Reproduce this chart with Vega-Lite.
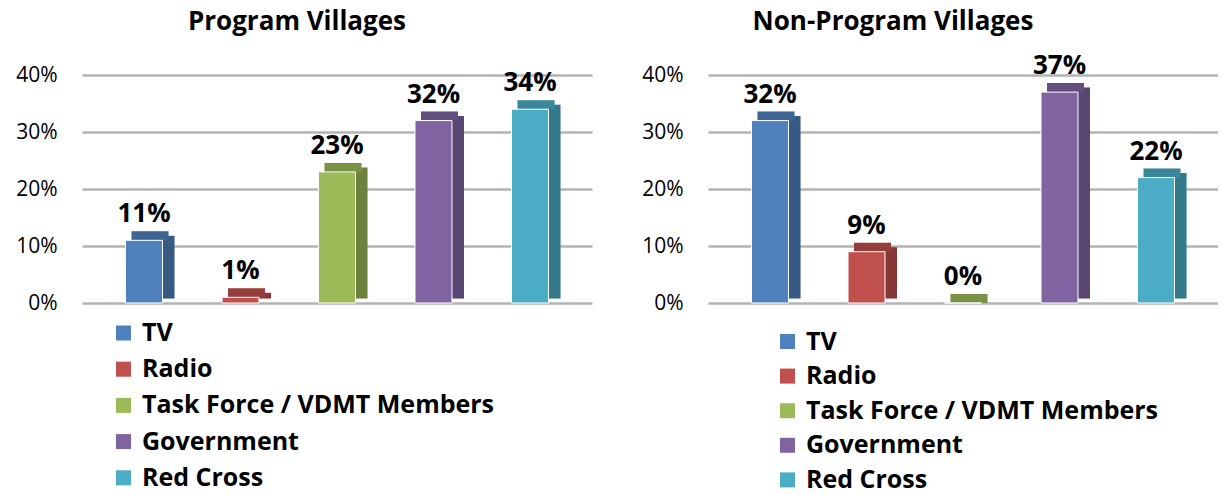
{
  "$schema": "https://vega.github.io/schema/vega-lite/v6.json",
  "padding": {"left": 15, "top": 9, "right": 0, "bottom": 0},
  "background": "white",
  "config": {"font": "Open Sans", "view": {"stroke": null}, "concat": {"spacing": 49}},
  "datasets": {
    "prog": [
      {"source": "TV", "value": 0.11},
      {"source": "Radio", "value": 0.01},
      {"source": "Task Force / VDMT Members", "value": 0.23},
      {"source": "Government", "value": 0.32},
      {"source": "Red Cross", "value": 0.34}
    ],
    "nonprog": [
      {"source": "TV", "value": 0.32},
      {"source": "Radio", "value": 0.09},
      {"source": "Task Force / VDMT Members", "value": 0.0},
      {"source": "Government", "value": 0.37},
      {"source": "Red Cross", "value": 0.22}
    ]
  },
  "resolve": {"scale": {"color": "independent", "x": "independent", "y": "independent"}, "legend": {"color": "independent"}},
  "hconcat": [
    {
      "width": 510,
      "height": 452,
      "title": {"text": "Program Villages", "fontSize": 26, "fontWeight": "bold", "anchor": "middle", "frame": "group", "dx": -40, "offset": 6, "color": "black"},
      "data": {"name": "prog"},
      "encoding": {
        "x": {"field": "source", "type": "nominal", "sort": ["TV", "Radio", "Task Force / VDMT Members", "Government", "Red Cross"], "scale": {"paddingInner": 0.617, "paddingOuter": 0.451}, "axis": null},
        "y": {"field": "value", "type": "quantitative", "scale": {"domain": [0, 0.4], "range": [262, 34]}, "axis": {"values": [0, 0.1, 0.2, 0.3, 0.4], "format": ".0%", "title": null, "labelFontSize": 21, "labelColor": "black", "labelPadding": 25, "ticks": false, "domain": false, "grid": true, "gridColor": "#b3b3b3", "gridWidth": 2.5}}
      },
      "layer": [
        {"mark": {"type": "bar", "width": 12, "xOffset": 24.5, "yOffset": -4.5, "y2Offset": -4.5},
         "encoding": {"color": {"field": "source", "type": "nominal"}}},
        {"mark": {"type": "bar", "width": 12, "xOffset": 24.5, "yOffset": -4.5, "y2Offset": -4.5, "color": "black", "opacity": 0.3}},
        {"mark": {"type": "bar", "width": 37, "xOffset": 6, "yOffset": -9, "y2Offset": 0},
         "encoding": {"y2": {"field": "value"}, "color": {"field": "source", "type": "nominal"}}},
        {"mark": {"type": "bar", "width": 37, "xOffset": 6, "yOffset": -9, "y2Offset": 0, "color": "black", "opacity": 0.22},
         "encoding": {"y2": {"field": "value"}}},
        {"mark": {"type": "bar", "width": 37, "stroke": "white", "strokeWidth": 1},
         "encoding": {"color": {"field": "source", "type": "nominal", "sort": ["TV", "Radio", "Task Force / VDMT Members", "Government", "Red Cross"], "scale": {"domain": ["TV", "Radio", "Task Force / VDMT Members", "Government", "Red Cross"], "range": ["#4f81bd", "#c0504d", "#9bbb59", "#8064a2", "#4bacc6"]},
           "legend": {"orient": "none", "legendX": 29, "legendY": 279.5, "direction": "vertical", "title": null, "symbolType": "square", "symbolSize": 225, "symbolStrokeWidth": 0, "labelFontSize": 25, "labelFontWeight": "bold", "labelColor": "black", "rowPadding": 10.2, "labelOffset": 6, "padding": 0, "labelLimit": 500}}}},
        {"mark": {"type": "text", "fontSize": 26, "fontWeight": "bold", "baseline": "bottom", "dy": -13, "color": "black"},
         "encoding": {"text": {"field": "value", "type": "quantitative", "format": ".0%"}}}
      ]
    },
    {
      "width": 510,
      "height": 452,
      "title": {"text": "Non-Program Villages", "fontSize": 26, "fontWeight": "bold", "anchor": "middle", "frame": "group", "dx": -70, "offset": 6, "color": "black"},
      "data": {"name": "nonprog"},
      "encoding": {
        "x": {"field": "source", "type": "nominal", "sort": ["TV", "Radio", "Task Force / VDMT Members", "Government", "Red Cross"], "scale": {"paddingInner": 0.617, "paddingOuter": 0.451}, "axis": null},
        "y": {"field": "value", "type": "quantitative", "scale": {"domain": [0, 0.4], "range": [262, 34]}, "axis": {"values": [0, 0.1, 0.2, 0.3, 0.4], "format": ".0%", "title": null, "labelFontSize": 21, "labelColor": "black", "labelPadding": 25, "ticks": false, "domain": false, "grid": true, "gridColor": "#b3b3b3", "gridWidth": 2.5}}
      },
      "layer": [
        {"mark": {"type": "bar", "width": 12, "xOffset": 24.5, "yOffset": -4.5, "y2Offset": -4.5},
         "encoding": {"color": {"field": "source", "type": "nominal"}}},
        {"mark": {"type": "bar", "width": 12, "xOffset": 24.5, "yOffset": -4.5, "y2Offset": -4.5, "color": "black", "opacity": 0.3}},
        {"mark": {"type": "bar", "width": 37, "xOffset": 6, "yOffset": -9, "y2Offset": 0},
         "encoding": {"y2": {"field": "value"}, "color": {"field": "source", "type": "nominal"}}},
        {"mark": {"type": "bar", "width": 37, "xOffset": 6, "yOffset": -9, "y2Offset": 0, "color": "black", "opacity": 0.22},
         "encoding": {"y2": {"field": "value"}}},
        {"mark": {"type": "bar", "width": 37, "stroke": "white", "strokeWidth": 1},
         "encoding": {"color": {"field": "source", "type": "nominal", "sort": ["TV", "Radio", "Task Force / VDMT Members", "Government", "Red Cross"], "scale": {"domain": ["TV", "Radio", "Task Force / VDMT Members", "Government", "Red Cross"], "range": ["#4f81bd", "#c0504d", "#9bbb59", "#8064a2", "#4bacc6"]},
           "legend": {"orient": "none", "legendX": 67, "legendY": 288, "direction": "vertical", "title": null, "symbolType": "square", "symbolSize": 225, "symbolStrokeWidth": 0, "labelFontSize": 25, "labelFontWeight": "bold", "labelColor": "black", "rowPadding": 8.6, "labelOffset": 6, "padding": 0, "labelLimit": 500}}}},
        {"mark": {"type": "text", "fontSize": 26, "fontWeight": "bold", "baseline": "bottom", "dy": -13, "color": "black"},
         "encoding": {"text": {"field": "value", "type": "quantitative", "format": ".0%"}}}
      ]
    }
  ]
}
